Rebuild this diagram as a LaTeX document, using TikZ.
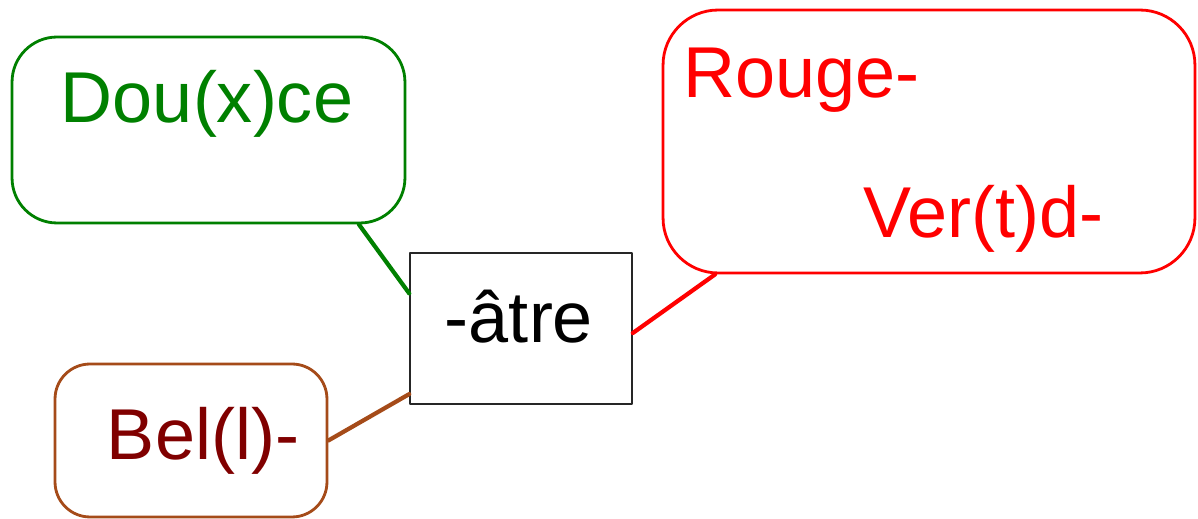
\documentclass[tikz,border=0pt]{standalone}
\usepackage{fontspec}
\setmainfont{Liberation Sans}
\usetikzlibrary{calc,positioning}
\definecolor{vert}{RGB}{0,128,0}
\definecolor{brun}{RGB}{165,75,25}
\definecolor{bordeaux}{RGB}{128,0,0}
\definecolor{rouge}{RGB}{255,0,0}
\tikzset{bulle/.style={draw,line width=1.6pt,rounded corners=#1,inner sep=0pt},
  mot/.style={font=\fontsize{41}{49}\selectfont,inner sep=0pt},
  lien/.style={line width=2.4pt}}
\begin{document}
\begin{tikzpicture}[x=0.02cm,y=-0.02cm,line join=round,line cap=round]
\useasboundingbox (0,0) rectangle (1198,519);
\node[bulle=0.9cm,vert,minimum width=7.86cm,minimum height=3.72cm] (dou) at (208.5,130) {};
\node[bulle=1.1cm,rouge,minimum width=10.64cm,minimum height=5.26cm] (rg) at (929,141.5) {};
\node[bulle=0.7cm,brun,minimum width=5.44cm,minimum height=3.06cm] (bel) at (191,440.5) {};
\node[draw=black!85,line width=0.9pt,minimum width=4.44cm,minimum height=3.02cm,inner sep=0pt] (atre) at (521,328.5) {};
\node[mot,vert,anchor=base] (dou-t) at (207,123) {Dou(x)ce};
\node[mot,rouge,anchor=base west] (rg-t) at (683,98) {Rouge-};
\node[mot,rouge,anchor=base west] (vd-t) at (863,238) {Ver(t)d-};
\node[mot,bordeaux,anchor=base] (bel-t) at (203,460) {Bel(l)-};
\node[mot,black,anchor=base] (atre-t) at (519,343) {-âtre};
\draw[lien,vert] ($(dou.south west)!0.88!(dou.south east)$)--($(atre.north west)!0.27!(atre.south west)$);
\draw[lien,rouge] ($(rg.south west)!0.1!(rg.south east)$)--($(atre.north east)!0.53!(atre.south east)$);
\draw[lien,brun] (bel.east)--($(atre.north west)!0.93!(atre.south west)$);
\end{tikzpicture}
\end{document}
